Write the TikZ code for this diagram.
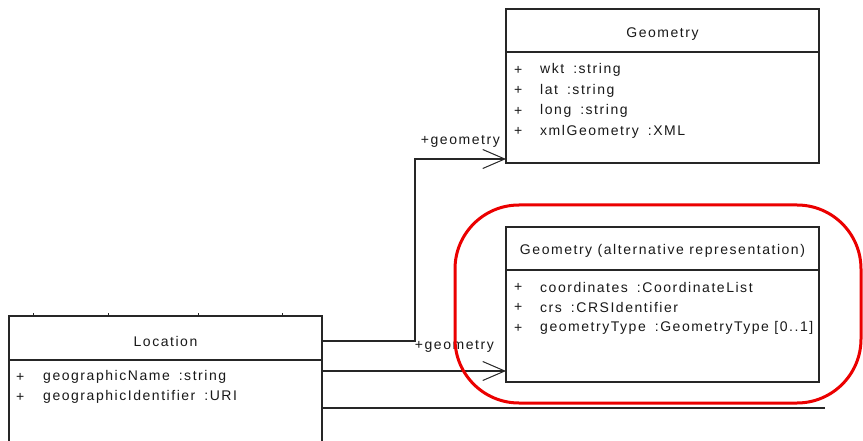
\documentclass[tikz,border=0pt]{standalone}
\usepackage{fontspec}
\setmainfont{Liberation Sans}[LetterSpace=11]
\usetikzlibrary{arrows.meta,calc}
\begin{document}
\begin{tikzpicture}[x=1pt,y=-1pt,
  umlbox/.style={draw=black!85,line width=1.1pt,fill=white,rectangle,anchor=north west,inner sep=0pt,outer sep=0pt},
  divider/.style={draw=black!85,line width=1.1pt},
  uml/.style={font=\fontsize{14}{16}\selectfont,inner sep=0pt,text=black!90},
  attr/.style={uml,anchor=west},
  assoc/.style={draw=black!85,line width=1.1pt},
  opentip/.style={-{Straight Barb[length=22pt,width=19pt,line width=1pt]}},
  highlight/.style={draw=red!92!black,line width=3pt,rounded corners=64pt}]
\useasboundingbox (0,0) rectangle (863,441);
\clip (0,0) rectangle (863,441);
\fill[white] (0,0) rectangle (863,441);

% class: Geometry
\node[umlbox,minimum width=313pt,minimum height=154pt] (geom) at (506,9) {};
\draw[divider] ($(geom.north west)+(0,43)$) -- ($(geom.north east)+(0,43)$);
\node[uml] (geomT) at ($(geom.north)+(0,25)$) {Geometry};
\foreach \yy/\nm/\ty [count=\i] in {61/wkt/string,81.5/lat/string,102/long/string,122.5/xmlGeometry/XML}{
  \node[attr] (gp\i) at ($(geom.north west)+(8,\yy)$) {+};
  \node[attr] (ga\i) at ($(geom.north west)+(34,\yy)$) {\nm\hspace{9pt}:\ty};
}

% class: Geometry (alternative representation)
\node[umlbox,minimum width=313pt,minimum height=155pt] (alt) at (506,227) {};
\draw[divider] ($(alt.north west)+(0,43)$) -- ($(alt.north east)+(0,43)$);
\node[uml] (altT) at ($(alt.north)+(0,24)$) {Geometry (alternative representation)};
\foreach \yy/\nm/\ty [count=\i] in {60/coordinates/CoordinateList,80/crs/CRSIdentifier,101/geometryType/GeometryType [0..1]}{
  \node[attr] (ap\i) at ($(alt.north west)+(8,\yy)$) {+};
  \node[attr] (aa\i) at ($(alt.north west)+(34,\yy)$) {\nm\hspace{9pt}:\ty};
}

% class: Location (runs past the lower edge)
\node[umlbox,minimum width=313pt,minimum height=160pt] (loc) at (9,316) {};
\draw[divider] ($(loc.north west)+(0,44)$) -- ($(loc.north east)+(0,44)$);
\node[uml] (locT) at ($(loc.north)+(0,25)$) {Location};
\foreach \yy/\nm/\ty [count=\i] in {61/geographicName/string,81/geographicIdentifier/URI}{
  \node[attr] (lp\i) at ($(loc.north west)+(7,\yy)$) {+};
  \node[attr] (la\i) at ($(loc.north west)+(34,\yy)$) {\nm\hspace{9pt}:\ty};
}
% stubs of links on the top edge of Location
\foreach \xx in {24,99,189,273}
  \draw[divider,line width=0.8pt] ($(loc.north west)+(\xx,0)$) -- ++(0,-3);

% associations
\coordinate (l1) at ($(loc.north east)+(0,25)$);
\coordinate (l2) at ($(loc.north east)+(0,55)$);
\coordinate (l3) at ($(loc.north east)+(0,92)$);
\coordinate (g1) at ($(geom.south west)+(0,-4)$);
\coordinate (bend) at (415,0);
\coordinate (e3) at (825,0);
\draw[assoc,opentip] (l1) -- (l1 -| bend) |- (g1);
\draw[assoc,opentip] (l2) -- (l2 -| alt.west);
\draw[assoc] (l3) -- (l3 -| e3);
\node[uml,anchor=south east] (r1) at ($(g1)+(-6,-11)$) {+geometry};
\node[uml,anchor=south east] (r2) at ($(l2 -| alt.west)+(-12,-18)$) {+geometry};

% highlight around the alternative class
\draw[highlight] (455,205) rectangle (861,403);
\end{tikzpicture}
\end{document}
